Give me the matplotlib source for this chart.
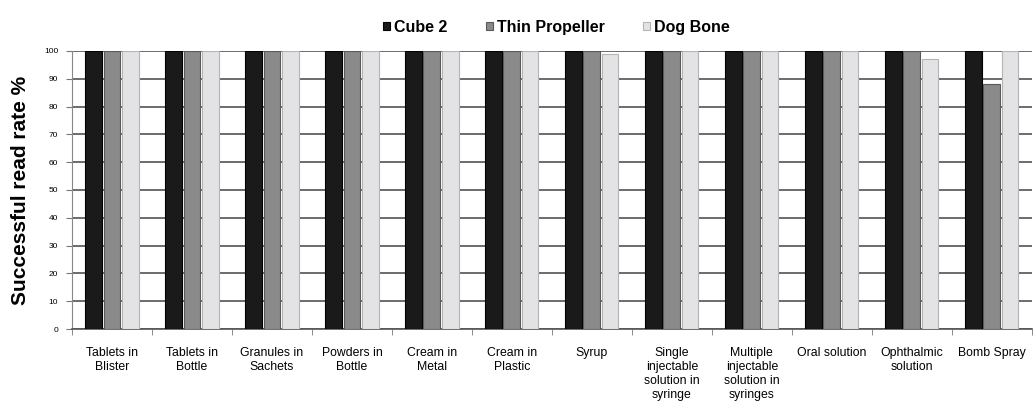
import numpy as np
import matplotlib.pyplot as plt

# Read rates per dosage form
categories = ['Tablets in\nBlister', 'Tablets in\nBottle', 'Granules in\nSachets',
              'Powders in\nBottle', 'Cream in\nMetal', 'Cream in\nPlastic', 'Syrup',
              'Single\ninjectable\nsolution in\nsyringe',
              'Multiple\ninjectable\nsolution in\nsyringes',
              'Oral solution', 'Ophthalmic\nsolution', 'Bomb Spray']
cube2 = [100, 100, 100, 100, 100, 100, 100, 100, 100, 100, 100, 100]
thin_propeller = [100, 100, 100, 100, 100, 100, 100, 100, 100, 100, 100, 88]
dog_bone = [100, 100, 100, 100, 100, 100, 99, 100, 100, 100, 97, 100]
series_names = ['Cube 2', 'Thin Propeller', 'Dog Bone']
yticks = list(range(0, 101, 10))

plt.rcParams['font.family'] = ['Liberation Sans', 'DejaVu Sans']

fig = plt.figure(figsize=(10.33, 4.11), dpi=100)
ax = fig.add_axes([0.0697, 0.1995, 0.929, 0.6765])

x = np.arange(len(categories))
w = 0.21
step = 0.228
colors = ['#1a1a1a', '#8a8a8a', '#e3e3e5']
edges = ['#000000', '#5a5a5a', '#b5b5b8']
for i, (vals, name) in enumerate(zip([cube2, thin_propeller, dog_bone], series_names)):
    ax.bar(x + (i - 1) * step, vals, w, color=colors[i], edgecolor=edges[i],
           linewidth=0.8, label=name, zorder=3)

ax.set_xlim(-0.5, len(categories) - 0.5)
ax.set_ylim(0, 100)
ax.set_yticks(yticks)
ax.set_yticklabels([str(v) for v in yticks], fontsize=6)
ax.yaxis.grid(True, color='#444444', linewidth=1.1, zorder=0)

ax.set_xticks(x)
ax.set_xticklabels(categories, fontsize=8.8, linespacing=1.22)
ax.set_xticks(np.arange(len(categories) + 1) - 0.5, minor=True)
ax.tick_params(axis='x', which='major', length=0, pad=13)
ax.tick_params(axis='x', which='minor', length=4, color='#777777')
ax.tick_params(axis='y', length=4, color='#777777', pad=6)

for s in ['top', 'right']:
    ax.spines[s].set_visible(False)
ax.spines['left'].set_color('#888888')
ax.spines['bottom'].set_color('#555555')
ax.spines['bottom'].set_linewidth(1.2)

ax.set_ylabel('Successful read rate %', fontsize=15, fontweight='bold', labelpad=10)

ax.legend(loc='center', bbox_to_anchor=(0.505, 1.086), ncol=3, frameon=False,
          prop={'size': 11.5, 'weight': 'bold'}, handlelength=0.45, handleheight=0.45,
          handletextpad=0.25, columnspacing=2.4)

fig.savefig('out.png', dpi=100)
